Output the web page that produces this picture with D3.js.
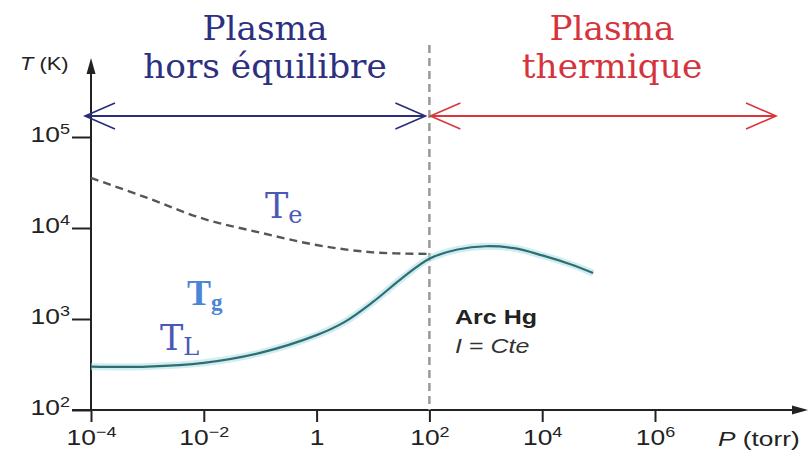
<!DOCTYPE html>
<html>
<head>
<meta charset="utf-8">
<script src="https://cdn.jsdelivr.net/npm/d3@7/dist/d3.min.js"></script>
<style>
  html, body { margin: 0; padding: 0; background: #ffffff; }
  svg { display: block; }
</style>
</head>
<body>
<svg id="chart" width="811" height="450"></svg>
<script>
// Pressure (torr) samples and temperatures (K)
const pElectron = [1e-4, 1e-3, 1e-2, 1e-1, 1, 10, 100];
const tElectron = [35500, 21400, 12600, 8900, 6500, 5400, 5200];

const pHeavy = [1e-4, 1e-3, 1e-2, 1e-1, 1, 3.16, 10, 31.6, 100, 316, 1000, 3160, 1e4, 3.16e4, 8e4];
const tHeavy = [300, 300, 330, 425, 665, 930, 1540, 2760, 4600, 5800, 6300, 6000, 5000, 4000, 3200];

// Axis ticks (powers of ten)
const xTickExp = [-4, -2, 0, 2, 4, 6];
const yTickExp = [2, 3, 4, 5];

const svg = d3.select("#chart");

const x = d3.scaleLog().domain([1e-4, 1e6]).range([91, 655]);
const y = d3.scaleLog().domain([1e2, 1e5]).range([410, 137]);

const x0 = x(1e-4), y0 = y(1e2);
const xEnd = 808, yTop = 58;
const sans = "Liberation Sans, Arial, sans-serif";
const serif = "DejaVu Serif, Georgia, serif";

// widen a text element horizontally by a factor
function widen(node, k) {
  const w = node.getComputedTextLength();
  node.setAttribute("textLength", (w * k).toFixed(1));
  node.setAttribute("lengthAdjust", "spacingAndGlyphs");
}

// Tick labels written as 10 with a superscript exponent
function powerLabel(sel, exp) {
  sel.text(null);
  if (exp === 0) { sel.append("tspan").text("1"); return; }
  sel.append("tspan").text("10");
  sel.append("tspan").attr("dy", "-8").attr("font-size", "15px")
     .text(exp < 0 ? "\u2212" + Math.abs(exp) : String(exp));
}

// x axis
const gx = svg.append("g").attr("transform", `translate(0,${y0})`)
  .call(d3.axisBottom(x).tickValues(xTickExp.map(e => Math.pow(10, e)))
        .tickSize(12).tickPadding(7).tickSizeOuter(0));
gx.select(".domain").remove();
gx.selectAll(".tick line").attr("stroke", "#222").attr("stroke-width", 2);
gx.selectAll(".tick text")
  .attr("font-family", sans).attr("font-size", "22px").attr("fill", "#222")
  .each(function(d) { powerLabel(d3.select(this), Math.round(Math.log10(d))); widen(this, 1.2); });

// y axis
const gy = svg.append("g").attr("transform", `translate(${x0},0)`)
  .call(d3.axisLeft(y).tickValues(yTickExp.map(e => Math.pow(10, e)))
        .tickSize(19).tickPadding(2).tickSizeOuter(0));
gy.select(".domain").remove();
gy.selectAll(".tick line").attr("stroke", "#222").attr("stroke-width", 2);
gy.selectAll(".tick text")
  .attr("font-family", sans).attr("font-size", "22px").attr("fill", "#222").attr("dy", "0.22em")
  .each(function(d) { powerLabel(d3.select(this), Math.round(Math.log10(d))); widen(this, 1.2); });

// axis lines with arrow tips
svg.append("line").attr("x1", x0 - 19).attr("y1", y0).attr("x2", xEnd - 10).attr("y2", y0)
  .attr("stroke", "#222").attr("stroke-width", 2);
svg.append("path").attr("d", `M${xEnd},${y0} L${xEnd - 16},${y0 - 4.5} L${xEnd - 16},${y0 + 4.5} Z`)
  .attr("fill", "#222");
svg.append("line").attr("x1", x0).attr("y1", y0).attr("x2", x0).attr("y2", yTop + 10)
  .attr("stroke", "#222").attr("stroke-width", 2);
svg.append("path").attr("d", `M${x0},${yTop} L${x0 - 4.5},${yTop + 16} L${x0 + 4.5},${yTop + 16} Z`)
  .attr("fill", "#222");

// axis titles
const tk = svg.append("text").attr("x", 20).attr("y", 70)
  .attr("font-family", sans).attr("font-size", "19px").attr("fill", "#222");
tk.append("tspan").attr("font-style", "italic").text("T");
tk.append("tspan").text(" (K)");
widen(tk.node(), 1.15);

const tp = svg.append("text").attr("x", 718).attr("y", 446)
  .attr("font-family", sans).attr("font-size", "21px").attr("fill", "#222");
tp.append("tspan").attr("font-style", "italic").text("P");
tp.append("tspan").text(" (torr)");
widen(tp.node(), 1.25);

// regime boundary at 100 torr
const xb = x(100);
svg.append("line").attr("x1", xb).attr("y1", 45).attr("x2", xb).attr("y2", y0)
  .attr("stroke", "#9a9a9a").attr("stroke-width", 2.5).attr("stroke-dasharray", "8,5");

// double-headed regime arrows
function doubleArrow(xa, xbEnd, yy, color) {
  const g = svg.append("g").attr("stroke", color).attr("stroke-width", 2).attr("fill", "none");
  g.append("line").attr("x1", xa).attr("y1", yy).attr("x2", xbEnd).attr("y2", yy);
  g.append("path").attr("d", `M${xa + 30},${yy - 13} L${xa},${yy} L${xa + 30},${yy + 13}`).attr("stroke-width", 1.6);
  g.append("path").attr("d", `M${xbEnd - 30},${yy - 13} L${xbEnd},${yy} L${xbEnd - 30},${yy + 13}`).attr("stroke-width", 1.6);
}
doubleArrow(x0 - 6, xb - 4, 116, "#2a2c7c");
doubleArrow(xb + 1, 776, 116, "#d8373c");

// regime titles
function title(lines, cx, color) {
  lines.forEach((s, i) => {
    const t = svg.append("text").attr("x", cx).attr("y", 40 + i * 38).attr("text-anchor", "middle")
      .attr("font-family", serif).attr("font-size", "33px").attr("fill", color).text(s);
    widen(t.node(), 1.04);
  });
}
title(["Plasma", "hors équilibre"], 265, "#2d2f80");
title(["Plasma", "thermique"], 612, "#d5343d");

// temperature curves
const line = d3.line().x(d => x(d[0])).y(d => y(d[1])).curve(d3.curveCatmullRom.alpha(0.5));
const heavyPts = pHeavy.map((p, i) => [p, tHeavy[i]]);
const elecPts = pElectron.map((p, i) => [p, tElectron[i]]);

svg.append("path").attr("d", line(heavyPts)).attr("fill", "none")
  .attr("stroke", "#a9dfe6").attr("stroke-width", 7).attr("stroke-opacity", 0.55);
svg.append("path").attr("d", line(heavyPts)).attr("fill", "none")
  .attr("stroke", "#2f6d72").attr("stroke-width", 2.2);
svg.append("path").attr("d", line(elecPts)).attr("fill", "none")
  .attr("stroke", "#505858").attr("stroke-width", 2.4).attr("stroke-dasharray", "8,5");

// curve labels
function subLabel(px, py, main, sub, color, size, subSize, bold, family) {
  const t = svg.append("text").attr("x", px).attr("y", py).attr("font-family", family)
    .attr("font-size", size + "px").attr("fill", color).attr("font-weight", bold ? "bold" : "normal");
  t.append("tspan").text(main);
  t.append("tspan").attr("font-size", subSize + "px").attr("dy", 5).text(sub);
}
subLabel(265, 218, "T", "e", "#4a59b6", 35, 24, false, serif);
subLabel(160, 350, "T", "L", "#4a59b6", 35, 24, false, serif);
subLabel(187, 305, "T", "g", "#4a86d6", 36, 23, true, "Liberation Serif, Times New Roman, serif");

// discharge annotation
const arc = svg.append("text").attr("x", 455).attr("y", 324)
  .attr("font-family", sans).attr("font-size", "20px")
  .attr("font-weight", "bold").attr("fill", "#222").text("Arc Hg");
widen(arc.node(), 1.25);
const ic = svg.append("text").attr("x", 455).attr("y", 353)
  .attr("font-family", sans).attr("font-size", "20px").attr("fill", "#333");
ic.append("tspan").attr("font-style", "italic").text("I");
ic.append("tspan").text(" = ");
ic.append("tspan").attr("font-style", "italic").text("Cte");
widen(ic.node(), 1.25);
</script>
</body>
</html>
